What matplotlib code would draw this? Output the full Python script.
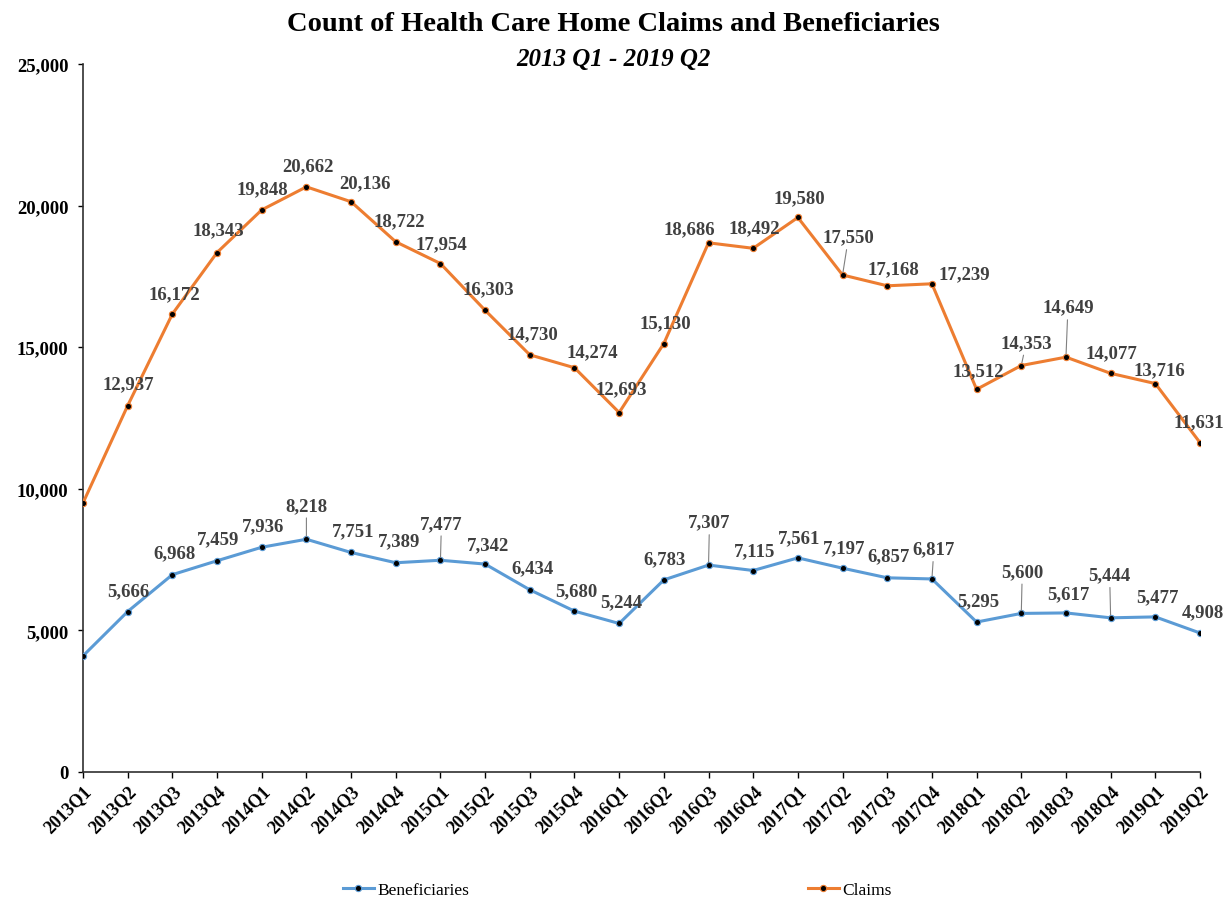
import matplotlib
matplotlib.use("Agg")
import matplotlib.pyplot as plt
from matplotlib.ticker import FuncFormatter

quarters = ["2013Q1", "2013Q2", "2013Q3", "2013Q4", "2014Q1", "2014Q2", "2014Q3", "2014Q4",
            "2015Q1", "2015Q2", "2015Q3", "2015Q4", "2016Q1", "2016Q2", "2016Q3", "2016Q4",
            "2017Q1", "2017Q2", "2017Q3", "2017Q4", "2018Q1", "2018Q2", "2018Q3", "2018Q4",
            "2019Q1", "2019Q2"]
claims = [9500, 12937, 16172, 18343, 19848, 20662, 20136, 18722, 17954, 16303, 14730, 14274,
          12693, 15130, 18686, 18492, 19580, 17550, 17168, 17239, 13512, 14353, 14649, 14077,
          13716, 11631]
beneficiaries = [4100, 5666, 6968, 7459, 7936, 8218, 7751, 7389, 7477, 7342, 6434, 5680,
                 5244, 6783, 7307, 7115, 7561, 7197, 6857, 6817, 5295, 5600, 5617, 5444,
                 5477, 4908]

# label placement (pixel offsets from point), None = no label
claims_off = [None, (1, -22), (2, -20), (1, -23), (1, -21), (2, -21), (14, -19), (3, -21),
              (1, -20), (3, -22), (3, -21), (18, -16), (2, -24), (1, -21), (-19, -14), (1, -21),
              (1, -20), (6, -38), (6, -17), (32, -10), (2, -19), (5, -23), (2, -50), (1, -21),
              (4, -14), (-1, -21)]
claims_lead = [17, 21, 22]
ben_off = [None, (1, -21), (2, -22), (1, -22), (1, -22), (0, -34), (2, -22), (3, -22),
           (1, -37), (3, -19), (3, -22), (2, -20), (2, -22), (1, -21), (1, -43), (1, -20),
           (1, -20), (2, -20), (1, -22), (2, -30), (2, -21), (1, -42), (2, -19), (-1, -43),
           (2, -20), (3, -21)]
ben_lead = [5, 8, 14, 19, 21, 23]

SERIF = "Liberation Serif"
plt.rcParams["font.family"] = [SERIF, "DejaVu Serif"]

fig = plt.figure(figsize=(12.27, 9.03), dpi=100)
ax = fig.add_axes([83 / 1227, 1 - 773 / 903, (1200 - 83) / 1227, (773 - 65) / 903])

x = list(range(len(quarters)))
orange = "#ED7D31"
blue = "#5B9BD5"
lb, = ax.plot(x, beneficiaries, color=blue, lw=2.2, marker="o", ms=4.5,
              mfc="black", mec=blue, mew=0.8, label="Beneficiaries", zorder=3)
lc, = ax.plot(x, claims, color=orange, lw=2.2, marker="o", ms=4.5,
              mfc="black", mec=orange, mew=0.8, label="Claims", zorder=3)

lab_color = "#404040"


def add_labels(vals, offs, leads):
    for i, (v, o) in enumerate(zip(vals, offs)):
        if o is None:
            continue
        kw = {}
        if i in leads:
            kw["arrowprops"] = dict(arrowstyle="-", color="#808080", lw=0.8,
                                    shrinkA=1, shrinkB=2)
        ax.annotate(f"{v:,}", (i, v), xytext=(o[0], -o[1]), textcoords="offset pixels",
                    ha="center", va="center", fontsize=13.5, fontweight="bold",
                    color=lab_color, zorder=4, **kw)


add_labels(claims, claims_off, claims_lead)
add_labels(beneficiaries, ben_off, ben_lead)

ax.set_xlim(0, len(quarters) - 1)
ax.set_ylim(0, 25000)
ax.set_yticks(range(0, 25001, 5000))
ax.yaxis.set_major_formatter(FuncFormatter(lambda v, p: f"{int(v):,}"))
ax.set_xticks(x)
ax.set_xticklabels(quarters, rotation=45, ha="right", rotation_mode="anchor",
                   fontsize=13, fontweight="bold")
for t in ax.get_yticklabels():
    t.set_fontweight("bold")
    t.set_fontsize(13.5)
ax.tick_params(axis="y", direction="out", length=3.5, width=1, pad=7)
ax.tick_params(axis="x", direction="out", length=4, width=1, pad=3)
for s in ["top", "right"]:
    ax.spines[s].set_visible(False)
for s in ["left", "bottom"]:
    ax.spines[s].set_linewidth(1.2)
    ax.spines[s].set_color("#303030")

fig.text(0.5, 1 - 31 / 903, "Count of Health Care Home Claims and Beneficiaries",
         ha="center", va="baseline", fontsize=20.5, fontweight="bold")
fig.text(0.5, 1 - 66 / 903, "2013 Q1 - 2019 Q2", ha="center", va="baseline",
         fontsize=18, fontweight="bold", fontstyle="italic")

fig.legend(handles=[lb, lc], loc="center", bbox_to_anchor=(0.503, 1 - 891 / 903),
           ncol=2, frameon=False, fontsize=12.5, columnspacing=19.5, handlelength=1.8,
           handletextpad=0.2)

fig.savefig("out.png", dpi=100)
